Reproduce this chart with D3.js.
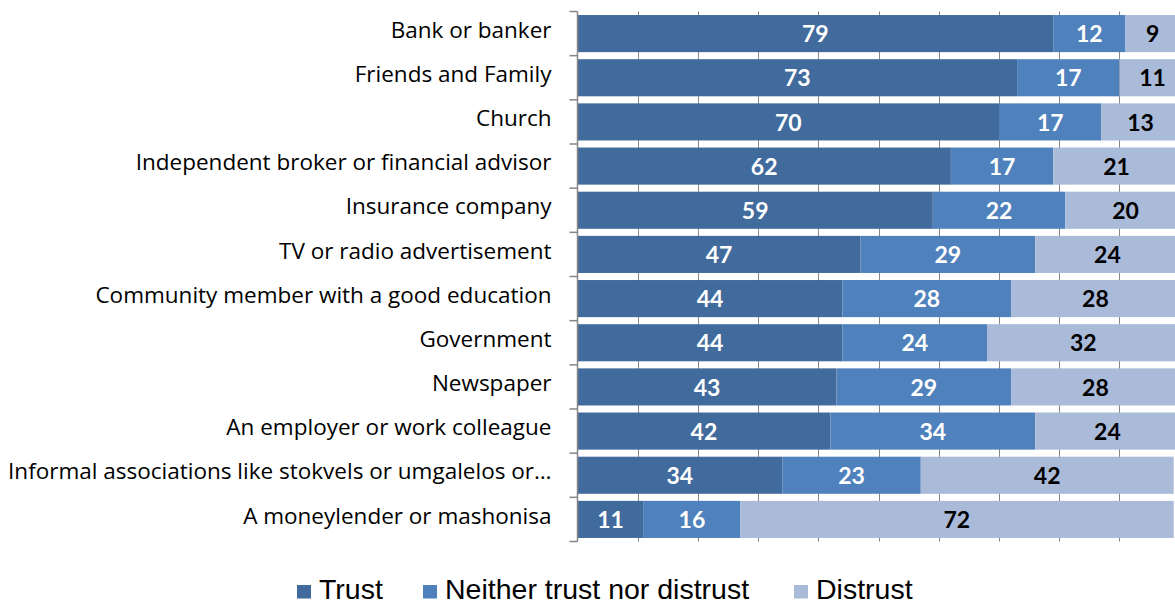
<!DOCTYPE html>
<html>
<head>
<meta charset="utf-8">
<script src="https://cdn.jsdelivr.net/npm/d3@7/dist/d3.min.js"></script>
<style>
  html, body { margin: 0; padding: 0; background: #fff; overflow: hidden; }
  svg { display: block; }
</style>
</head>
<body>
<svg id="chart" width="1175" height="605"></svg>
<script>
// Sources of financial advice: share of respondents who trust / are neutral / distrust
const categories = [
  "Bank or banker",
  "Friends and Family",
  "Church",
  "Independent broker or financial advisor",
  "Insurance company",
  "TV or radio advertisement",
  "Community member with a good education",
  "Government",
  "Newspaper",
  "An employer or work colleague",
  "Informal associations like stokvels or umgalelos or\u2026",
  "A moneylender or mashonisa"
];
const trust    = [79, 73, 70, 62, 59, 47, 44, 44, 43, 42, 34, 11];
const neither  = [12, 17, 17, 17, 22, 29, 28, 24, 29, 34, 23, 16];
const distrust = [ 9, 11, 13, 21, 20, 24, 28, 32, 28, 24, 42, 72];

const seriesNames = ["Trust", "Neither trust nor distrust", "Distrust"];
const seriesColors = ["#416a9d", "#4f81bd", "#aabad9"];
const labelColors = ["#ffffff", "#ffffff", "#000000"];
const xTicks = [0, 10, 20, 30, 40, 50, 60, 70, 80, 90, 100];

const svg = d3.select("#chart");
const plot = { left: 577.5, right: 1179.7, top: 11.5, bottom: 541.5 };

const x = d3.scaleLinear().domain([0, 100]).range([plot.left, plot.right]);
const y = d3.scaleBand().domain(categories).range([plot.top, plot.bottom])
  .paddingInner(0.16).paddingOuter(0.08);

// Vertical gridlines (behind the bars)
svg.append("g")
  .selectAll("line")
  .data(xTicks.slice(1))
  .join("line")
  .attr("x1", d => Math.round(x(d)) + 0.5)
  .attr("x2", d => Math.round(x(d)) + 0.5)
  .attr("y1", plot.top)
  .attr("y2", plot.bottom)
  .attr("stroke", "#868686")
  .attr("stroke-width", 1);

// Stack the three series
const rows = categories.map((c, i) => ({ cat: c, vals: [trust[i], neither[i], distrust[i]] }));
const segs = [];
rows.forEach(r => {
  let acc = 0;
  r.vals.forEach((v, k) => {
    segs.push({ cat: r.cat, k, v, x0: acc, x1: acc + v });
    acc += v;
  });
});

svg.append("g")
  .selectAll("rect")
  .data(segs)
  .join("rect")
  .attr("x", d => x(d.x0))
  .attr("width", d => x(d.x1) - x(d.x0))
  .attr("y", d => y(d.cat))
  .attr("height", y.bandwidth())
  .attr("fill", d => seriesColors[d.k]);

// Value labels centred on each segment
svg.append("g")
  .selectAll("text")
  .data(segs)
  .join("text")
  .attr("x", d => (x(d.x0) + x(d.x1)) / 2)
  .attr("y", d => y(d.cat) + y.bandwidth() / 2)
  .attr("dy", "0.38em")
  .attr("text-anchor", "middle")
  .attr("font-family", "Lato, 'Open Sans', sans-serif")
  .attr("font-weight", "bold")
  .attr("font-size", 23)
  .attr("fill", d => labelColors[d.k])
  .text(d => d.v);

// Category axis on the left
const yAxis = d3.axisLeft(y).tickSize(0).tickPadding(26);
const gy = svg.append("g")
  .attr("transform", `translate(${plot.left},-4)`)
  .call(yAxis);
gy.select(".domain").remove();
gy.selectAll("text")
  .attr("font-family", "'Open Sans', Lato, sans-serif")
  .attr("font-size", 22.5)
  .attr("fill", "#000")
  .attr("dy", "0.36em");

// Axis line and boundary ticks between categories
svg.append("line")
  .attr("x1", plot.left).attr("x2", plot.left)
  .attr("y1", plot.top).attr("y2", plot.bottom)
  .attr("stroke", "#868686").attr("stroke-width", 1.5);
const bounds = d3.range(categories.length + 1).map(i => plot.top + i * (plot.bottom - plot.top) / categories.length);
svg.append("g")
  .selectAll("line")
  .data(bounds)
  .join("line")
  .attr("x1", plot.left - 8).attr("x2", plot.left)
  .attr("y1", d => d).attr("y2", d => d)
  .attr("stroke", "#868686").attr("stroke-width", 1.5);

// Legend
const legendX = [297, 423, 794];
const legend = svg.append("g")
  .selectAll("g")
  .data(seriesNames)
  .join("g")
  .attr("transform", (d, i) => `translate(${legendX[i]},598.5)`);
legend.append("rect")
  .attr("x", 0).attr("y", -13.5)
  .attr("width", 14).attr("height", 13.5)
  .attr("fill", (d, i) => seriesColors[i]);
legend.append("text")
  .attr("x", 22).attr("y", 0)
  .attr("font-family", "'Liberation Sans', Arial, sans-serif")
  .attr("font-size", 28.5)
  .attr("fill", "#000")
  .text(d => d);
</script>
</body>
</html>
